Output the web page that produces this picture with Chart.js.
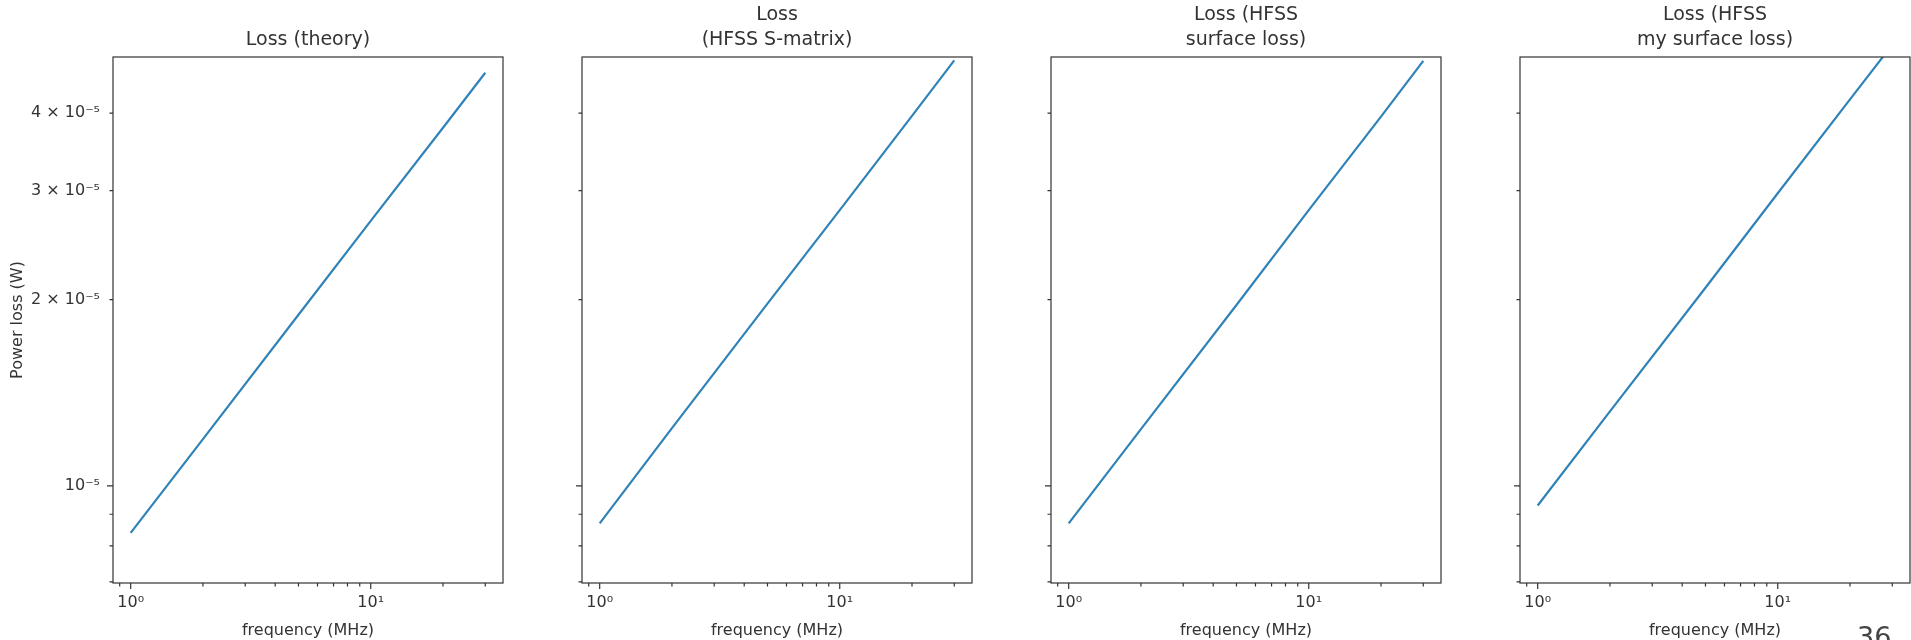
<!DOCTYPE html>
<html>
<head>
<meta charset="utf-8">
<script src="https://cdn.jsdelivr.net/npm/chart.js@4/dist/chart.umd.min.js"></script>
<style>
  body { margin: 0; background: #fff; width: 1911px; height: 640px; overflow: hidden; position: relative; }
  canvas { position: absolute; top: 0; }
  #page { position: absolute; left: 1857px; top: 623px; font: 27px "DejaVu Sans"; color: #444; line-height: 1; }
</style>
</head>
<body>
<canvas id="c0" width="504" height="640"></canvas>
<canvas id="c1" width="421" height="640"></canvas>
<canvas id="c2" width="421" height="640"></canvas>
<canvas id="c3" width="421" height="640"></canvas>
<div id="page">36</div>
<script>
// frequency points (MHz) and power loss (W)
const freqMHz = [1, 2, 5, 10, 20, 30];
const lossTheory = [8.4e-6, 11.9e-6, 18.9e-6, 26.8e-6, 37.9e-6, 46.5e-6];
const lossSMatrix = [8.7e-6, 12.4e-6, 19.7e-6, 27.9e-6, 39.6e-6, 48.7e-6];
const lossSurface = [8.7e-6, 12.35e-6, 19.6e-6, 27.9e-6, 39.5e-6, 48.6e-6];
const lossMySurface = [9.3e-6, 13.2e-6, 20.9e-6, 29.7e-6, 42.1e-6, 51.6e-6];

const titles = [
  ['Loss (theory)'],
  ['Loss', '(HFSS S-matrix)'],
  ['Loss (HFSS', 'surface loss)'],
  ['Loss (HFSS', 'my surface loss)']
];

const xTicks = [0.9, 1, 2, 3, 4, 5, 6, 7, 8, 9, 10, 20, 30];
const xTickLabels = { 1: '10⁰', 10: '10¹' };
const yTicks = [7e-6, 8e-6, 9e-6, 1e-5, 2e-5, 3e-5, 4e-5];
const yTickLabels = { 1e-5: '10⁻⁵', 2e-5: '2 × 10⁻⁵', 3e-5: '3 × 10⁻⁵', 4e-5: '4 × 10⁻⁵' };

const plotLeft = [113, 582, 1051, 1520];
const allLoss = [lossTheory, lossSMatrix, lossSurface, lossMySurface];

Chart.defaults.font.family = 'DejaVu Sans';
Chart.defaults.color = '#333';

// matplotlib style box + major/minor ticks
const frameTicks = {
  id: 'frameTicks',
  afterDraw(chart) {
    const { ctx, chartArea: a, scales: { x, y } } = chart;
    ctx.save();
    ctx.strokeStyle = '#333';
    ctx.lineWidth = 1.2;
    ctx.beginPath();
    x.ticks.forEach(t => {
      const px = x.getPixelForValue(t.value);
      const len = (t.value === 1 || t.value === 10) ? 6 : 3.5;
      ctx.moveTo(px, a.bottom);
      ctx.lineTo(px, a.bottom + len);
    });
    y.ticks.forEach(t => {
      const py = y.getPixelForValue(t.value);
      const len = t.value === 1e-5 ? 6 : 3.5;
      ctx.moveTo(a.left, py);
      ctx.lineTo(a.left - len, py);
    });
    ctx.stroke();
    ctx.strokeRect(a.left, a.top, a.width, a.height);
    ctx.restore();
  }
};

for (let i = 0; i < 4; i++) {
  const yW = i === 0 ? 113 : 30;
  const cv = document.getElementById('c' + i);
  cv.style.left = (plotLeft[i] - yW) + 'px';
  cv.width = yW + 390 + 1;

  new Chart(cv, {
    type: 'line',
    data: {
      datasets: [{
        data: freqMHz.map((f, k) => ({ x: f, y: allLoss[i][k] })),
        borderColor: '#3082b8',
        borderWidth: 2.2,
        pointRadius: 0,
        tension: 0,
        fill: false
      }]
    },
    options: {
      responsive: false,
      animation: false,
      events: [],
      layout: { padding: { top: titles[i].length === 1 ? 27.5 : 2.5, right: 1, bottom: 0, left: 0 } },
      plugins: {
        legend: { display: false },
        tooltip: { enabled: false },
        title: {
          display: true,
          fullSize: false,
          text: titles[i],
          color: '#333',
          font: { size: 19, weight: 'normal', lineHeight: 25 / 19 },
          padding: { top: 0, bottom: 4.5 }
        }
      },
      scales: {
        x: {
          type: 'logarithmic',
          min: 0.844,
          max: 35.56,
          afterBuildTicks: s => { s.ticks = xTicks.map(v => ({ value: v })); },
          afterFit: s => { s.height = 57; },
          grid: { display: false, drawTicks: false, tickLength: 0 },
          border: { display: false },
          ticks: {
            autoSkip: false,
            maxRotation: 0,
            padding: 10,
            font: { size: 16 },
            color: '#333',
            callback: v => xTickLabels[v] || ''
          },
          title: {
            display: true,
            text: 'frequency (MHz)',
            color: '#333',
            font: { size: 16 },
            padding: { top: 0, bottom: 0 }
          }
        },
        y: {
          type: 'logarithmic',
          min: 6.97e-6,
          max: 4.93e-5,
          afterBuildTicks: s => { s.ticks = yTicks.map(v => ({ value: v })); },
          afterFit: s => { s.width = yW; },
          grid: { display: false, drawTicks: false, tickLength: 0 },
          border: { display: false },
          ticks: {
            display: i === 0,
            autoSkip: false,
            padding: 13,
            font: { size: 16 },
            color: '#333',
            callback: v => yTickLabels[v] || ''
          },
          title: {
            display: i === 0,
            text: 'Power loss (W)',
            color: '#333',
            font: { size: 16 },
            padding: { top: 8.4, bottom: 0 }
          }
        }
      }
    },
    plugins: [frameTicks]
  });
}
</script>
</body>
</html>
